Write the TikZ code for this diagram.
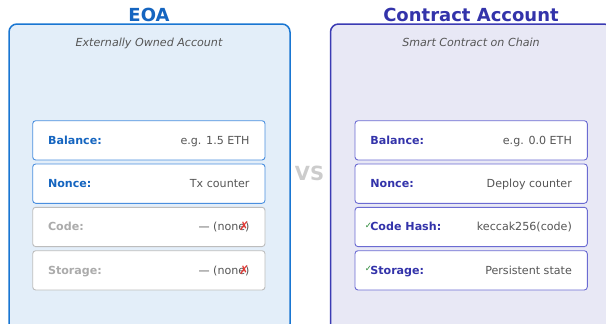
\documentclass[tikz,border=0pt]{standalone}
\usepackage{fontspec}
\setmainfont{DejaVu Sans}
\definecolor{eoaStroke}{HTML}{1976D2}
\definecolor{eoaTitle}{HTML}{1565C0}
\definecolor{eoaFill}{HTML}{E3EEF9}
\definecolor{eoaRow}{HTML}{4A8FDF}
\definecolor{caStroke}{HTML}{3B3BB3}
\definecolor{caTitle}{HTML}{3333AA}
\definecolor{caFill}{HTML}{E8E8F5}
\definecolor{caRow}{HTML}{6B6BD2}
\definecolor{grayRow}{HTML}{BDBDBD}
\definecolor{grayLabel}{HTML}{ABABAB}
\definecolor{valText}{HTML}{555555}
\definecolor{vsGray}{HTML}{CCCCCC}
\definecolor{okGreen}{HTML}{2E8B3A}
\definecolor{noRed}{HTML}{E53935}
\tikzset{
  panel/.style={rounded corners=8pt, line width=1.5pt},
  rowbox/.style={draw, fill=white, rounded corners=3pt, line width=0.9pt, minimum width=232.3pt, minimum height=39.3pt, inner sep=0pt},
  titletext/.style={font=\fontsize{18}{20}\selectfont\bfseries, inner sep=0pt, anchor=center},
  subtext/.style={font=\fontsize{11.1}{13}\selectfont\itshape, text=valText, inner sep=0pt, anchor=base},
  labeltext/.style={font=\fontsize{11.1}{13}\selectfont\bfseries, inner sep=0pt, anchor=base west},
  valuetext/.style={font=\fontsize{11.1}{13}\selectfont, text=valText, inner sep=0pt, anchor=base east},
  checkmark/.style={font=\fontsize{8.5}{9}\selectfont\bfseries, text=okGreen, inner sep=0pt, anchor=center},
  crossmark/.style={font=\fontsize{12}{13}\selectfont, text=noRed, inner sep=0pt, anchor=center}
}
\begin{document}
\begin{tikzpicture}[x=1pt, y=-1pt]
\useasboundingbox (0,0) rectangle (606,324);
\clip (0,0) rectangle (606,324);
% panels
\draw[panel, draw=eoaStroke, fill=eoaFill] (9,24) rectangle (290,332);
\draw[panel, draw=caStroke, fill=caFill] (330.5,24) rectangle (612,332);
% titles
\node[titletext, text=eoaTitle] (eoaT) at (149,15) {EOA};
\node[titletext, text=caTitle] (caT) at (471,15) {Contract Account};
\node[subtext] (eoaS) at (149,46) {Externally Owned Account};
\node[subtext] (caS) at (471,46) {Smart Contract on Chain};
% VS
\node[font=\fontsize{19.5}{21}\selectfont\bfseries, text=vsGray, inner sep=0pt] (vs) at (309.5,173) {VS};
% EOA rows
\node[rowbox, draw=eoaRow] (e1) at (148.85,140.35) {};
\node[rowbox, draw=eoaRow] (e2) at (148.85,183.65) {};
\node[rowbox, draw=grayRow] (e3) at (148.85,226.95) {};
\node[rowbox, draw=grayRow] (e4) at (148.85,270.35) {};
\foreach \r/\lab/\val/\col in {e1/Balance:/e.g. 1.5 ETH/eoaTitle, e2/Nonce:/Tx counter/eoaTitle, e3/Code:/— (none)/grayLabel, e4/Storage:/— (none)/grayLabel}{
  \node[labeltext, text=\col] (\r l) at ([xshift=15.6pt, yshift=-4pt]\r.west) {\lab};
  \node[valuetext] (\r v) at ([xshift=-15.7pt, yshift=-4pt]\r.east) {\val};
}
\node[crossmark] (x3) at ([xshift=-5.5pt, yshift=0.5pt]e3v.east |- e3.center) {✗};
\node[crossmark] (x4) at ([xshift=-5.5pt, yshift=0.5pt]e4v.east |- e4.center) {✗};
% Contract rows
\node[rowbox, draw=caRow] (c1) at (471.15,140.35) {};
\node[rowbox, draw=caRow] (c2) at (471.15,183.65) {};
\node[rowbox, draw=caRow] (c3) at (471.15,226.95) {};
\node[rowbox, draw=caRow] (c4) at (471.15,270.35) {};
\foreach \r/\lab/\val in {c1/Balance:/e.g. 0.0 ETH, c2/Nonce:/Deploy counter, c3/Code Hash:/keccak256(code), c4/Storage:/Persistent state}{
  \node[labeltext, text=caTitle] (\r l) at ([xshift=15.6pt, yshift=-4pt]\r.west) {\lab};
  \node[valuetext] (\r v) at ([xshift=-15.7pt, yshift=-4pt]\r.east) {\val};
}
\node[checkmark] (k3) at ([xshift=13.8pt, yshift=1.5pt]c3.west) {✓};
\node[checkmark] (k4) at ([xshift=13.8pt, yshift=1.5pt]c4.west) {✓};
\end{tikzpicture}
\end{document}
